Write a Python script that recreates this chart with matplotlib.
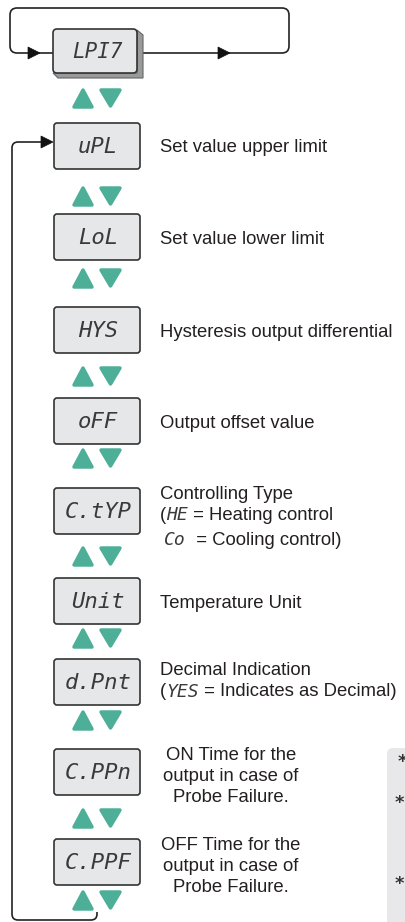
import matplotlib.pyplot as plt
from matplotlib.patches import Polygon, FancyBboxPatch, PathPatch
from matplotlib.path import Path

# menu entries shown on the displays, and what they mean
menu_code = "LPI7"
codes = ["uPL", "LoL", "HYS", "oFF", "C.tYP", "Unit", "d.Pnt", "C.PPn", "C.PPF"]
descs = [
    ["Set value upper limit"],
    ["Set value lower limit"],
    ["Hysteresis output differential"],
    ["Output offset value"],
    ["Controlling Type", ("(", "HE", " = Heating control"), ("", "Co", "  = Cooling control)")],
    ["Temperature Unit"],
    ["Decimal Indication", ("(", "YES", " = Indicates as Decimal)")],
    ["ON Time for the", "output in case of", "Probe Failure."],
    ["OFF Time for the", "output in case of", "Probe Failure."],
]
centered = [False] * 7 + [True, True]
stars = ["*", "*", "*"]

# layout (pixels)
box_top = [123, 214, 307, 398, 488, 578, 659, 749, 839]
tri_top = [88, 186, 268, 366, 448, 546, 628, 710, 808, 890]
box_x0, box_x1, box_h = 54, 140, 46
text_x = 160
line_gap = 21
TXT = "#231f20"
GREEN = "#4daf98"
FILL = "#e6e7e8"
EDGE = "#333333"
SEG = dict(family="DejaVu Sans Mono", style="oblique", color="#3a3a3a")
DESC = dict(family="Liberation Sans", color=TXT, fontsize=13.3)

fig = plt.figure(figsize=(4.05, 9.22), dpi=100)
ax = fig.add_axes([0, 0, 1, 1])
ax.set_xlim(0, 405)
ax.set_ylim(922, 0)
ax.axis("off")


def rounded_path(pts, r=7):
    verts = [pts[0]]
    codes_ = [Path.MOVETO]
    for i in range(1, len(pts) - 1):
        (x0, y0), (x1, y1), (x2, y2) = pts[i - 1], pts[i], pts[i + 1]
        def towards(ax_, ay_, bx, by):
            d = ((bx - ax_) ** 2 + (by - ay_) ** 2) ** 0.5
            return ax_ + (bx - ax_) * r / d, ay_ + (by - ay_) * r / d
        verts += [towards(x1, y1, x0, y0), (x1, y1), towards(x1, y1, x2, y2)]
        codes_ += [Path.LINETO, Path.CURVE3, Path.CURVE3]
    verts.append(pts[-1])
    codes_.append(Path.LINETO)
    ax.add_patch(PathPatch(Path(verts, codes_), fill=False, lw=1.2, ec="#222222"))


def arrow_head(x, y):
    ax.add_patch(Polygon([(x - 12, y - 6), (x, y), (x - 12, y + 6)], closed=True,
                         fc="#111111", ec="#111111", lw=0.5))


def updown(y):
    kw = dict(closed=True, fc=GREEN, ec=GREEN, lw=2.5, joinstyle="round")
    ax.add_patch(Polygon([(74, y + 19), (92, y + 19), (83, y + 2)], **kw))
    ax.add_patch(Polygon([(101, y + 2), (120, y + 2), (110.5, y + 18)], **kw))


# top loop around the menu box
rounded_path([(143, 53), (289, 53), (289, 8), (10, 8), (10, 53), (53, 53)])
arrow_head(40, 53)
arrow_head(230, 53)
ax.add_patch(Polygon([(137, 30), (143, 35), (143, 78), (58, 78), (53, 73), (137, 73)],
                     closed=True, fc="#9a9a9a", ec="#666666", lw=0.8))
ax.add_patch(FancyBboxPatch((53, 29), 84, 44, boxstyle="round,pad=0,rounding_size=4",
                            fc=FILL, ec=EDGE, lw=1.2))
ax.text(97, 52, menu_code, ha="center", va="center", fontsize=15, **SEG)
updown(tri_top[0])

# left return loop
rounded_path([(97, 912), (97, 920), (12, 920), (12, 142), (42, 142)], r=6)
arrow_head(53, 142)

for i, code in enumerate(codes):
    top = box_top[i]
    ax.add_patch(FancyBboxPatch((box_x0, top), box_x1 - box_x0, box_h,
                                boxstyle="round,pad=0,rounding_size=3",
                                fc=FILL, ec=EDGE, lw=1.2))
    ax.text((box_x0 + box_x1) / 2 + 1, top + box_h / 2 + 1, code,
            ha="center", va="center", fontsize=16, **SEG)
    updown(tri_top[i + 1])

    lines = descs[i]
    n = len(lines)
    mid = top + box_h / 2 + (4 if n == 3 else (-1 if n == 2 else 2))
    ys = [mid + (k - (n - 1) / 2) * line_gap for k in range(n)]
    if i == 4:
        ys[2] += 4
    for k, line in enumerate(lines):
        y = ys[k]
        if isinstance(line, tuple):
            pre, seg, post = line
            if pre:
                t = ax.text(text_x, y, pre, ha="left", va="center", **DESC)
                t2 = ax.annotate(seg, xy=(1, 0.5), xycoords=t, ha="left", va="center",
                                 fontsize=13, **SEG)
            else:
                t2 = ax.text(text_x + 4, y, seg, ha="left", va="center", fontsize=13, **SEG)
            ax.annotate(post, xy=(1, 0.5), xycoords=t2, ha="left", va="center", **DESC)
        elif centered[i]:
            ax.text(231, y, line, ha="center", va="center", **DESC)
        else:
            ax.text(text_x, y, line, ha="left", va="center", **DESC)

# grey note panel cut at the right edge
ax.add_patch(FancyBboxPatch((387, 748), 40, 200, boxstyle="round,pad=0,rounding_size=6",
                            fc="#e8e8ea", ec="none"))
for s, (sx, sy) in zip(stars, [(402, 762), (399, 803), (399, 884)]):
    ax.text(sx, sy, s, ha="center", va="center", fontsize=13, fontweight="bold",
            color="#333333", family="DejaVu Sans")

fig.savefig("out.png", dpi=100)
